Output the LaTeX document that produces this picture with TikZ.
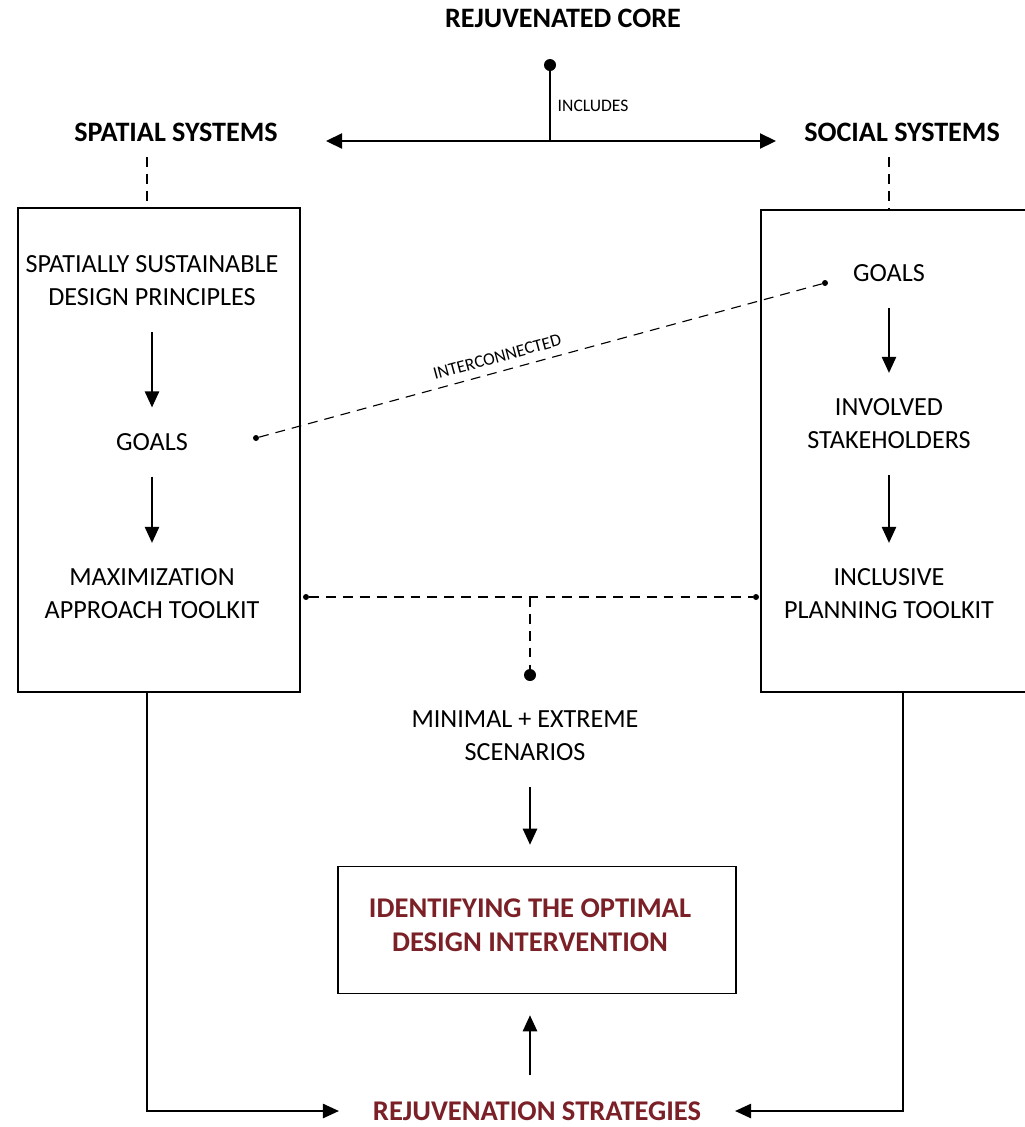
\documentclass[tikz,border=0pt]{standalone}
\usepackage{fontspec}
\setmainfont{Carlito}
\usepackage{tikz}
\usetikzlibrary{shapes,arrows.meta,positioning,calc}
\definecolor{stratred}{RGB}{122,32,38}

\begin{document}
\begin{tikzpicture}[x=0.025cm, y=-0.025cm,
    head/.style={font=\fontsize{20}{24}\selectfont\bfseries},
    body/.style={align=center, font=\fontsize{18.6}{23.5}\selectfont},
    tiny/.style={font=\fontsize{12.5}{14}\selectfont, inner sep=1pt},
    panel/.style={draw, line width=1pt, rectangle, minimum width=7.05cm, minimum height=12.1cm},
    arr/.style={line width=1pt, shorten <=15pt, shorten >=15pt, -{Triangle[length=4mm,width=3.6mm]}},
    dashline/.style={line width=0.8pt, dash pattern=on 7pt off 5pt},
    bigdot/.style={circle, fill, inner sep=0pt, minimum size=3mm},
    smalldot/.style={circle, fill, inner sep=0pt, minimum size=1.5mm}]
    \useasboundingbox (0,0) rectangle (1025,1127);

    % Draw top heading and the includes split
    \node[head] (core) at (563,18) {REJUVENATED CORE};
    \node[bigdot] (coredot) at (550,65) {};
    \coordinate (hub) at (550,141);
    \coordinate (lend) at (326,141);
    \coordinate (rend) at (776,141);
    \node[head] (spatial) at (176,132) {SPATIAL SYSTEMS};
    \node[head] (social) at (902,132) {SOCIAL SYSTEMS};
    \draw[line width=1pt] (coredot) -- node[tiny, right=4pt] {INCLUDES} (hub);
    \draw[line width=1pt, {Triangle[length=4mm,width=3.8mm]}-{Triangle[length=4mm,width=3.8mm]}] (lend) -- (rend);

    % Draw the two system panels
    \node[panel] (lbox) at (159,450) {};
    \node[panel, minimum width=6.85cm, minimum height=12.05cm] (rbox) at (898,451) {};
    \coordinate (ltop) at (147,157);
    \coordinate (rtop) at (889,157);
    \draw[dashline] (ltop) -- (ltop |- lbox.north);
    \draw[dashline] (rtop) -- (rtop |- rbox.north);

    % Draw spatial column
    \node[body] (principles) at (152,281) {SPATIALLY SUSTAINABLE\\DESIGN PRINCIPLES};
    \node[body] (lgoals) at (152,442) {GOALS};
    \node[body] (maxtool) at (152,594) {MAXIMIZATION\\APPROACH TOOLKIT};
    \draw[arr] (principles) -- (lgoals);
    \draw[arr] (lgoals) -- (maxtool);

    % Draw social column
    \node[body] (rgoals) at (889,273) {GOALS};
    \node[body] (stake) at (889,424) {INVOLVED\\STAKEHOLDERS};
    \node[body] (incltool) at (889,594) {INCLUSIVE\\PLANNING TOOLKIT};
    \draw[arr] (rgoals) -- (stake);
    \draw[arr] (stake) -- (incltool);

    % Draw interconnection between goals
    \node[smalldot] (ldot) at (256,438) {};
    \node[smalldot] (rdot) at (825,283) {};
    \draw[dashline] (ldot) -- node[tiny, sloped, above=5pt, pos=0.43] {INTERCONNECTED} (rdot);

    % Draw toolkits feeding scenarios
    \node[smalldot] (ltdot) at (306,597) {};
    \node[smalldot] (rtdot) at (756,597) {};
    \node[bigdot] (scendot) at (530,675) {};
    \draw[dashline] (ltdot) -- (rtdot);
    \draw[dashline] (ltdot -| scendot) -- (scendot);
    \node[body] (scen) at (525,736) {MINIMAL + EXTREME\\SCENARIOS};

    % Draw optimal intervention and strategies
    \node[draw, line width=1pt, minimum width=9.95cm, minimum height=3.175cm] (optbox) at (537,930) {};
    \node[head, text=stratred, align=center, font=\fontsize{20.3}{24}\selectfont\bfseries] (opttext) at (530,925) {IDENTIFYING THE OPTIMAL\\DESIGN INTERVENTION};
    \node[head, text=stratred, inner xsep=24pt, font=\fontsize{20.3}{24}\selectfont\bfseries] (strat) at (537,1111) {REJUVENATION STRATEGIES};
    \coordinate (rdrop) at (903,692);
    \draw[arr] (scen.south -| scendot) -- (optbox.north -| scendot);
    \draw[arr] (strat.north -| scendot) -- (optbox.south -| scendot);
    \draw[arr, shorten <=0pt, shorten >=0pt] (lbox.south -| ltop) |- (strat.west);
    \draw[arr, shorten <=0pt, shorten >=0pt] (rdrop) |- (strat.east);
\end{tikzpicture}
\end{document}
